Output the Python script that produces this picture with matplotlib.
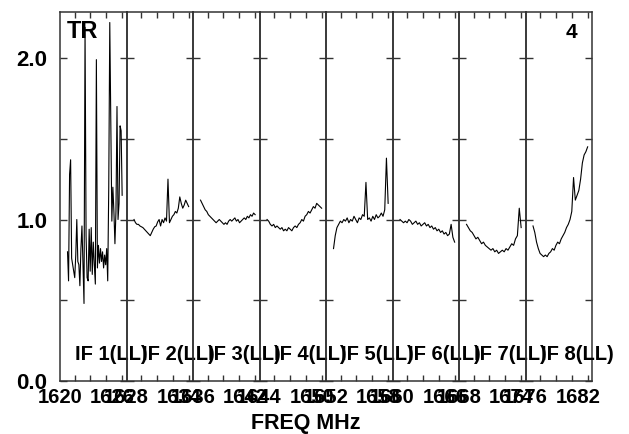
import matplotlib
matplotlib.use("Agg")
import matplotlib.pyplot as plt
import numpy as np

plt.rcParams['font.family'] = ['Liberation Sans', 'DejaVu Sans']
plt.rcParams['font.weight'] = 'bold'

# IF start frequencies (MHz) and names
if_start = [1620, 1628, 1636, 1644, 1652, 1660, 1668, 1676]
if_names = ["IF 1(LL)", "IF 2(LL)", "IF 3(LL)", "IF 4(LL)",
            "IF 5(LL)", "IF 6(LL)", "IF 7(LL)", "IF 8(LL)"]
chan_lo = 0.55   # offset of first channel inside an IF, MHz
chan_hi = 7.45   # offset of last channel inside an IF, MHz

# amplitude per channel
if1 = [0.80, 0.62, 1.28, 1.37, 0.76, 0.72, 0.68, 0.64, 0.78, 1.00, 0.74, 0.72,
       0.59, 0.82, 0.96, 0.72, 0.48, 2.19, 0.90, 0.64, 0.62, 0.94, 0.68, 0.95,
       0.66, 0.86, 0.72, 0.60, 1.99, 0.70, 0.84, 0.73, 0.82, 0.74, 0.80, 0.70,
       0.78, 0.72, 0.82, 0.62, 1.20, 2.22, 1.60, 0.99, 1.20, 1.05, 0.85, 1.05,
       1.70, 1.00, 1.10, 1.58, 1.55, 1.15]
if2 = [1.00, 0.98, 0.97, 0.97, 0.96, 0.955, 0.95, 0.94, 0.93, 0.92, 0.91, 0.90,
       0.92, 0.94, 0.955, 0.96, 0.985, 1.00, 0.96, 1.00, 0.98, 1.01, 0.99, 1.25,
       0.98, 1.00, 1.02, 1.03, 1.05, 1.04, 1.07, 1.14, 1.10, 1.07, 1.09, 1.12,
       1.10, 1.08]
if3 = [1.12, 1.10, 1.08, 1.06, 1.05, 1.03, 1.02, 1.01, 1.00, 0.99, 0.98, 0.99,
       1.00, 0.99, 0.98, 0.97, 0.98, 0.97, 0.99, 1.00, 0.99, 1.00, 1.01, 0.99,
       1.00, 0.98, 0.99, 1.00, 1.01, 1.00, 1.02, 1.01, 1.03, 1.02, 1.04, 1.03]
if4 = [1.00, 0.99, 0.97, 0.96, 0.97, 0.95, 0.96, 0.95, 0.94, 0.95, 0.93, 0.94,
       0.93, 0.95, 0.94, 0.93, 0.95, 0.96, 0.95, 0.97, 0.98, 1.00, 0.99, 1.02,
       1.03, 1.05, 1.04, 1.06, 1.08, 1.07, 1.10, 1.09, 1.08, 1.07]
if5 = [0.82, 0.90, 0.95, 0.97, 0.99, 0.98, 1.00, 0.99, 1.01, 0.98, 1.00, 0.99,
       1.02, 1.00, 0.98, 1.01, 1.00, 1.03, 1.02, 1.23, 1.00, 1.01, 0.99, 1.02,
       1.00, 1.03, 1.01, 1.02, 1.04, 1.02, 1.06, 1.38, 1.10]
if6 = [1.00, 0.99, 0.98, 0.99, 0.98, 1.00, 0.99, 0.97, 0.98, 0.99, 0.97, 0.98,
       0.96, 0.97, 0.98, 0.96, 0.97, 0.95, 0.96, 0.94, 0.95, 0.93, 0.94, 0.92,
       0.93, 0.91, 0.92, 0.90, 0.91, 0.97, 0.89, 0.86]
if7 = [0.97, 0.95, 0.93, 0.92, 0.90, 0.88, 0.89, 0.87, 0.85, 0.86, 0.84, 0.83,
       0.82, 0.81, 0.82, 0.80, 0.81, 0.79, 0.80, 0.81, 0.80, 0.82, 0.81, 0.83,
       0.85, 0.84, 0.88, 0.90, 1.07, 0.95]
if8 = [0.96, 0.92, 0.86, 0.82, 0.79, 0.78, 0.77, 0.78, 0.77, 0.79, 0.80, 0.82,
       0.81, 0.84, 0.86, 0.85, 0.88, 0.90, 0.92, 0.95, 0.97, 1.00, 1.05, 1.26,
       1.12, 1.15, 1.18, 1.25, 1.35, 1.40, 1.42, 1.45]
amps = [if1, if2, if3, if4, if5, if6, if7, if8]

fig, axes = plt.subplots(1, 8, sharey=True, figsize=(6.29, 4.34), dpi=100)
fig.subplots_adjust(left=60/629, right=592/629, bottom=1-381/434, top=1-12/434, wspace=0)

for k, ax in enumerate(axes):
    s = if_start[k]
    y = amps[k]
    x = np.linspace(s + chan_lo, s + chan_hi, len(y))
    ax.plot(x, y, color='black', linewidth=0.8)
    ax.patch.set_visible(False)

    ax.set_xlim(s, s + 8)
    ax.set_ylim(0, 2.285)
    ax.set_xticks([s - 0.4, s + 6.2])
    ax.set_xticklabels([str(s), str(s + 6)])
    ax.set_xticks([s + 1.45, s + 3.45, s + 5.45, s + 7.45], minor=True)
    ax.tick_params(axis='x', which='major', length=0, pad=5, labelsize=14.5)
    ax.tick_params(axis='x', which='minor', direction='in', top=True,
                   bottom=True, length=4.5, width=1, color='#333333')
    ax.set_yticks([0, 0.5, 1.0, 1.5, 2.0])
    ax.tick_params(axis='y', direction='in', left=True, right=True,
                   length=4.8, width=1, color='#333333', labelsize=16, pad=9)
    for sp in ax.spines.values():
        sp.set_linewidth(1.1)
        sp.set_color('#333333')

    ax.text(15/66.5, 27/369, if_names[k], transform=ax.transAxes,
            fontsize=14.5, fontweight='bold', ha='left', va='center', clip_on=False)

axes[0].set_yticklabels(['0.0', '', '1.0', '', '2.0'])

fig.text(67/629, 1 - 31/434, "TR", fontsize=17, fontweight='bold', va='center', ha='left')
fig.text(577/629, 1 - 32/434, "4", fontsize=15, fontweight='bold', va='center', ha='right')
fig.text(306/629, 1 - 423/434, "FREQ MHz", fontsize=15.5, fontweight='bold', va='center', ha='center')

fig.savefig("out.png", dpi=100)
